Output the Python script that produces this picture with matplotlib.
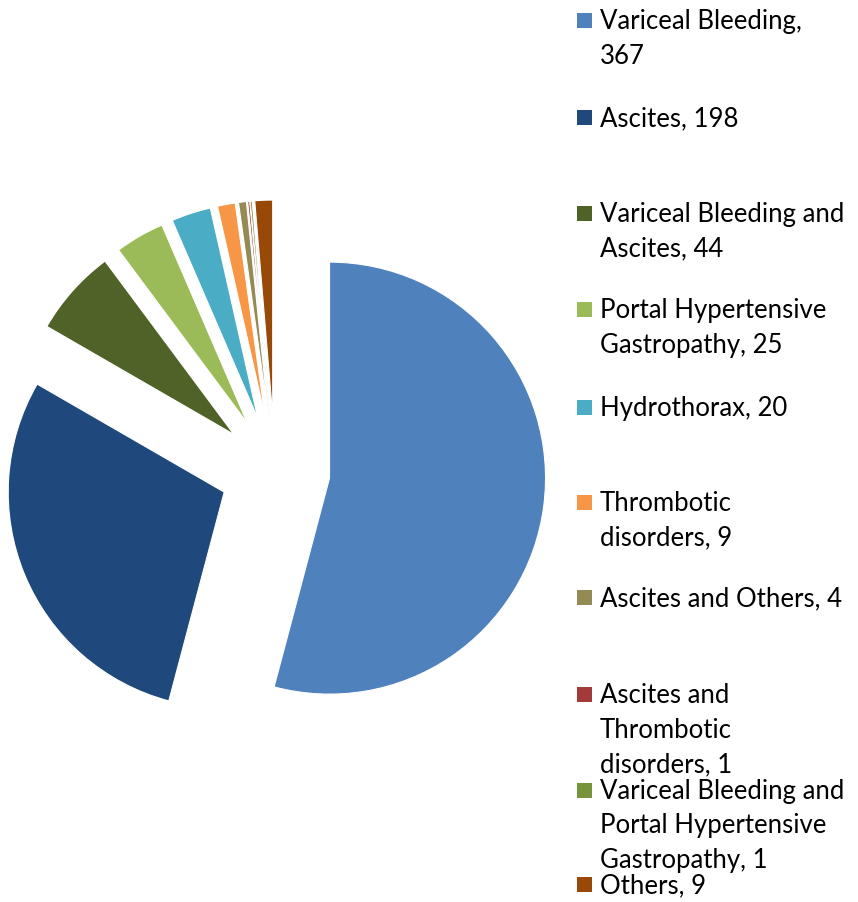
import textwrap
import matplotlib
matplotlib.use('Agg')
import matplotlib.pyplot as plt
from matplotlib.patches import Rectangle

# complications, counts
categories = [
    'Variceal Bleeding',
    'Ascites',
    'Variceal Bleeding and Ascites',
    'Portal Hypertensive Gastropathy',
    'Hydrothorax',
    'Thrombotic disorders',
    'Ascites and Others',
    'Ascites and Thrombotic disorders',
    'Variceal Bleeding and Portal Hypertensive Gastropathy',
    'Others',
]
counts = [367, 198, 44, 25, 20, 9, 4, 1, 1, 9]
colors = ['#4F81BD', '#1F497D', '#4F6228', '#9BBB59', '#4BACC6',
          '#F79646', '#948A54', '#A33A3A', '#77933C', '#984807']

# wrap width (chars) per legend entry, and first-line y (px from top)
wrap_widths = [18, 21, 21, 21, 21, 12, 21, 12, 21, 21]
legend_y = [20, 117, 213, 309, 407, 502, 597, 694, 790, 884]

W, H = 858, 902
fig = plt.figure(figsize=(W / 100, H / 100), dpi=100)
ax = fig.add_axes([0, 0, 1, 1])

radius = 216
ax.pie(counts, colors=colors, startangle=90, counterclock=False,
       center=(275, H - 471), radius=radius, explode=[55] * len(counts),
       wedgeprops=dict(edgecolor='white', linewidth=0.8), frame=True)
ax.set_xlim(0, W)
ax.set_ylim(0, H)
ax.set_aspect('equal')
ax.axis('off')

font = ['Lato', 'DejaVu Sans']
line_h = 34.5
for cat, n, col, ww, y0 in zip(categories, counts, colors, wrap_widths, legend_y):
    lines = textwrap.wrap(f'{cat}, {n}', width=ww)
    ax.add_patch(Rectangle((577, H - y0 - 7.5), 15, 15, facecolor=col,
                           edgecolor='none', clip_on=False))
    for k, line in enumerate(lines):
        ax.text(600, H - (y0 + k * line_h) - 9, line, fontsize=18.5,
                family=font, color='#000000', va='baseline', ha='left')

fig.savefig('out.png', dpi=100)
